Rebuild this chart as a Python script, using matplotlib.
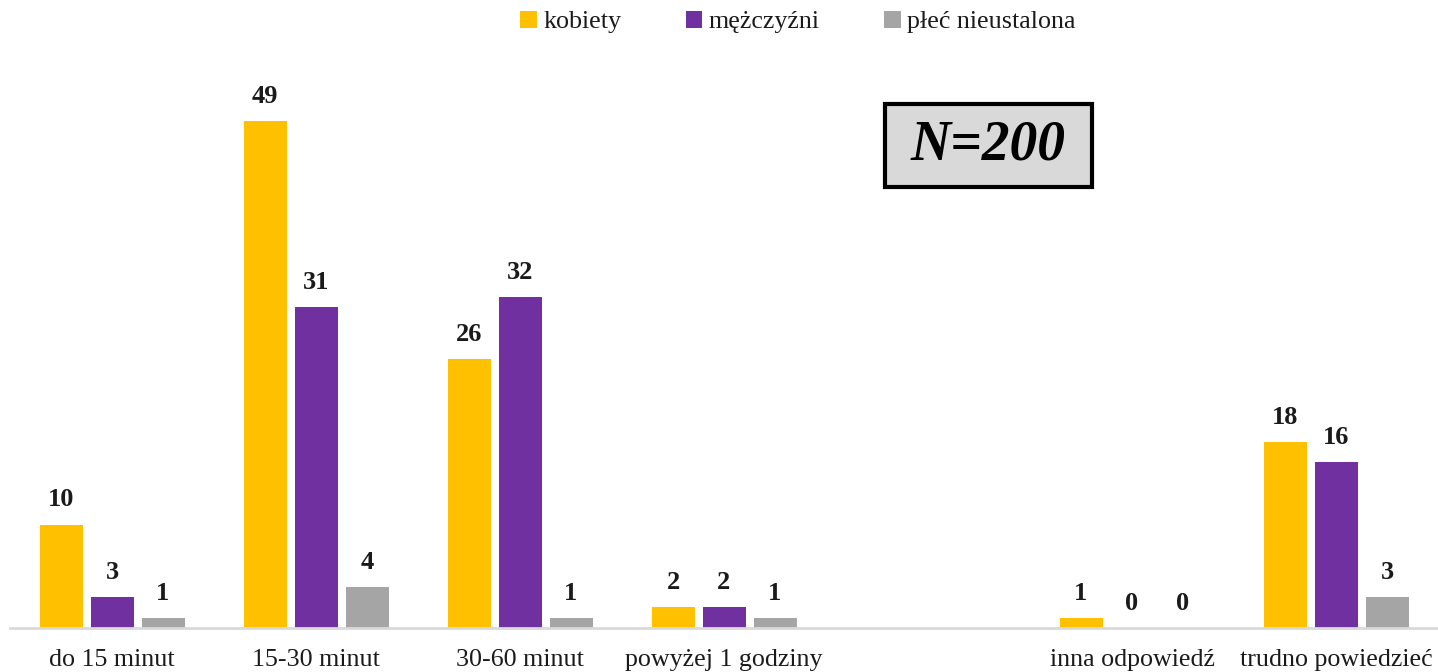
import numpy as np
import matplotlib
matplotlib.use("Agg")
import matplotlib.pyplot as plt
from matplotlib.patches import Rectangle

categories = ["do 15 minut", "15-30 minut", "30-60 minut", "powyżej 1 godziny", "",
              "inna odpowiedź", "trudno powiedzieć"]
series_names = ["kobiety", "mężczyźni", "płeć nieustalona"]
kobiety = [10, 49, 26, 2, np.nan, 1, 18]
mezczyzni = [3, 31, 32, 2, np.nan, 0, 16]
nieustalona = [1, 4, 1, 1, np.nan, 0, 3]
colors = ["#FFC000", "#7030A0", "#A5A5A5"]

plt.rcParams["font.family"] = ["Liberation Serif", "DejaVu Serif"]

W, H = 1438, 672
fig = plt.figure(figsize=(W / 100, H / 100), dpi=100)
ax = fig.add_axes([10 / W, 1 - 628 / H, 1428 / W, (628 - 59) / H])

x = np.arange(len(categories))
width = 43 / 204
step = 51 / 204
handles = []
for i, (vals, col) in enumerate(zip([kobiety, mezczyzni, nieustalona], colors)):
    pos = x + (i - 1) * step
    bars = ax.bar(pos, vals, width=width, color=col, label=series_names[i], zorder=2)
    handles.append(bars)
    for p, v in zip(pos, vals):
        if np.isnan(v):
            continue
        ax.annotate(f"{int(v)}", (p, v), xytext=(0, 13), textcoords="offset points",
                    ha="center", va="baseline", fontsize=19, fontweight="bold",
                    color="#1a1a1a")

ax.set_xlim(-0.5, len(categories) - 0.5)
ax.set_ylim(0, 55)
ax.set_xticks(x)
ax.set_xticklabels(categories, fontsize=18.7, color="#1a1a1a")
ax.tick_params(axis="x", length=0, pad=15)
ax.set_yticks([])
for s in ["top", "right", "left"]:
    ax.spines[s].set_visible(False)
ax.spines["bottom"].set_color("#d9d9d9")
ax.spines["bottom"].set_linewidth(2)

fig.legend(handles=handles, labels=series_names, loc="center",
           bbox_to_anchor=(798 / W, 1 - 22 / H), ncol=3, frameon=False,
           fontsize=18.7, handlelength=0.62, handleheight=0.62, handletextpad=0.25,
           columnspacing=2.5, labelcolor="#1a1a1a")

# sample size box
fig.add_artist(Rectangle((885 / W, 1 - 187 / H), 207 / W, 83 / H,
                         transform=fig.transFigure, facecolor="#d9d9d9",
                         edgecolor="black", linewidth=3))
fig.text(988 / W, 1 - 146 / H, "N=200", ha="center", va="center",
         fontsize=40, fontweight="bold", fontstyle="italic", color="black")

fig.savefig("out.png", dpi=100)
